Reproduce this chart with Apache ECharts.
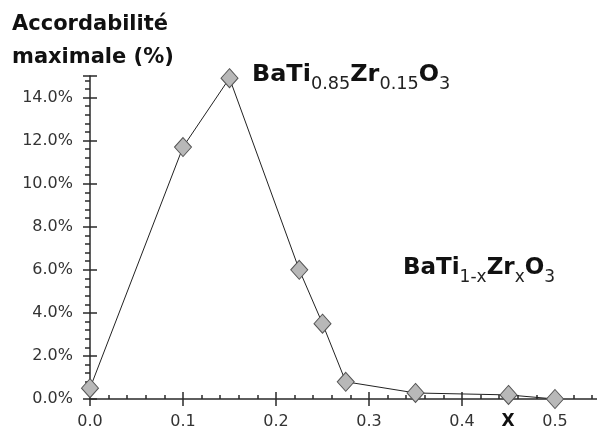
<!DOCTYPE html>
<html>
<head>
<meta charset="utf-8">
<script src="https://cdn.jsdelivr.net/npm/echarts@6/dist/echarts.min.js"></script>
<style>
html,body{margin:0;padding:0;background:#fff;}
#c{width:597px;height:436px;}
</style>
</head>
<body>
<div id="c"></div>
<script>
var xValues = [0.0, 0.1, 0.15, 0.225, 0.25, 0.275, 0.35, 0.45, 0.5];
var tunability = [0.5, 11.7, 14.9, 6.0, 3.5, 0.8, 0.28, 0.19, 0.0];
var yTickLabels = ['0.0%', '2.0%', '4.0%', '6.0%', '8.0%', '10.0%', '12.0%', '14.0%'];
var xTickLabels = ['0.0', '0.1', '0.2', '0.3', '0.4', '0.5'];

var data = xValues.map(function (x, i) { return [x, tunability[i]]; });
var FONT = '"DejaVu Sans", Verdana, sans-serif';

var chart = echarts.init(document.getElementById('c'), null, {renderer: 'canvas'});
var axisLine = {show: true, lineStyle: {color: '#2a2a2a', width: 1.5}};
var richFormula = {
  m: {font: 'bold 23px ' + FONT, fill: '#111', lineHeight: 30, verticalAlign: 'bottom', padding: [0, 0, 6, 0]},
  s: {font: '17px ' + FONT, fill: '#222', lineHeight: 30, verticalAlign: 'bottom', padding: [0, 0, 0, 0]}
};
var option = {
  backgroundColor: '#fff',
  animation: false,
  grid: {left: 90, top: 76, width: 558, bottom: 37, containLabel: false, outerBoundsMode: 'none'},
  xAxis: [{
    type: 'value', min: 0, max: 0.6, interval: 0.1,
    axisLine: axisLine,
    axisTick: {show: true, inside: true, length: 7, lineStyle: {color: '#2a2a2a', width: 1.5}},
    minorTick: {show: true, splitNumber: 5, length: 4, lineStyle: {color: '#2a2a2a', width: 1.5}},
    splitLine: {show: false},
    axisLabel: {show: true, margin: 15, color: '#333', fontSize: 16, fontFamily: FONT,
      formatter: function (v) { var i = Math.round(v * 10); return xTickLabels[i] || ''; }}
  }, {
    type: 'value', min: 0, max: 0.6, interval: 0.1, position: 'bottom',
    axisLine: {show: false},
    axisTick: {show: true, inside: false, length: 7, lineStyle: {color: '#2a2a2a', width: 1.5}},
    splitLine: {show: false}, axisLabel: {show: false}
  }],
  yAxis: [{
    type: 'value', min: 0, max: 15, interval: 2,
    axisLine: axisLine,
    axisTick: {show: true, inside: false, length: 7, lineStyle: {color: '#2a2a2a', width: 1.5}},
    minorTick: {show: true, splitNumber: 5, length: 5, lineStyle: {color: '#2a2a2a', width: 1.5}},
    splitLine: {show: false},
    axisLabel: {show: true, margin: 17, color: '#333', fontSize: 16, fontFamily: FONT, showMaxLabel: false,
      formatter: function (v) { var i = Math.round(v / 2); return (v % 2 === 0) ? (yTickLabels[i] || '') : ''; }}
  }, {
    type: 'value', min: 0, max: 15, interval: 2, position: 'left',
    axisLine: {show: false},
    axisTick: {show: true, inside: true, length: 7, lineStyle: {color: '#2a2a2a', width: 1.5}},
    splitLine: {show: false}, axisLabel: {show: false}
  }],
  series: [{
    type: 'line',
    data: data,
    xAxisIndex: 0, yAxisIndex: 0,
    symbol: 'diamond',
    symbolSize: [17, 19],
    lineStyle: {color: '#222', width: 1},
    itemStyle: {color: '#b8b8b8', borderColor: '#555', borderWidth: 1},
    z: 3
  }],
  graphic: [
    {type: 'text', left: 12, top: 8, style: {
      text: 'Accordabilité\nmaximale (%)', font: 'bold 21px ' + FONT, fill: '#111', lineHeight: 33}},
    {type: 'text', x: 252, y: 63, scaleX: 1.04, style: {
      text: '{m|BaTi}{s|0.85}{m|Zr}{s|0.15}{m|O}{s|3}', rich: richFormula}},
    {type: 'text', x: 403, y: 256, scaleX: 1.0, style: {
      text: '{m|BaTi}{s|1-x}{m|Zr}{s|x}{m|O}{s|3}', rich: richFormula}},
    {type: 'text', x: 508, y: 422, style: {text: 'X', font: 'bold 17px ' + FONT, fill: '#111',
      align: 'center', verticalAlign: 'middle'}}
  ]
};
chart.setOption(option);
</script>
</body>
</html>
